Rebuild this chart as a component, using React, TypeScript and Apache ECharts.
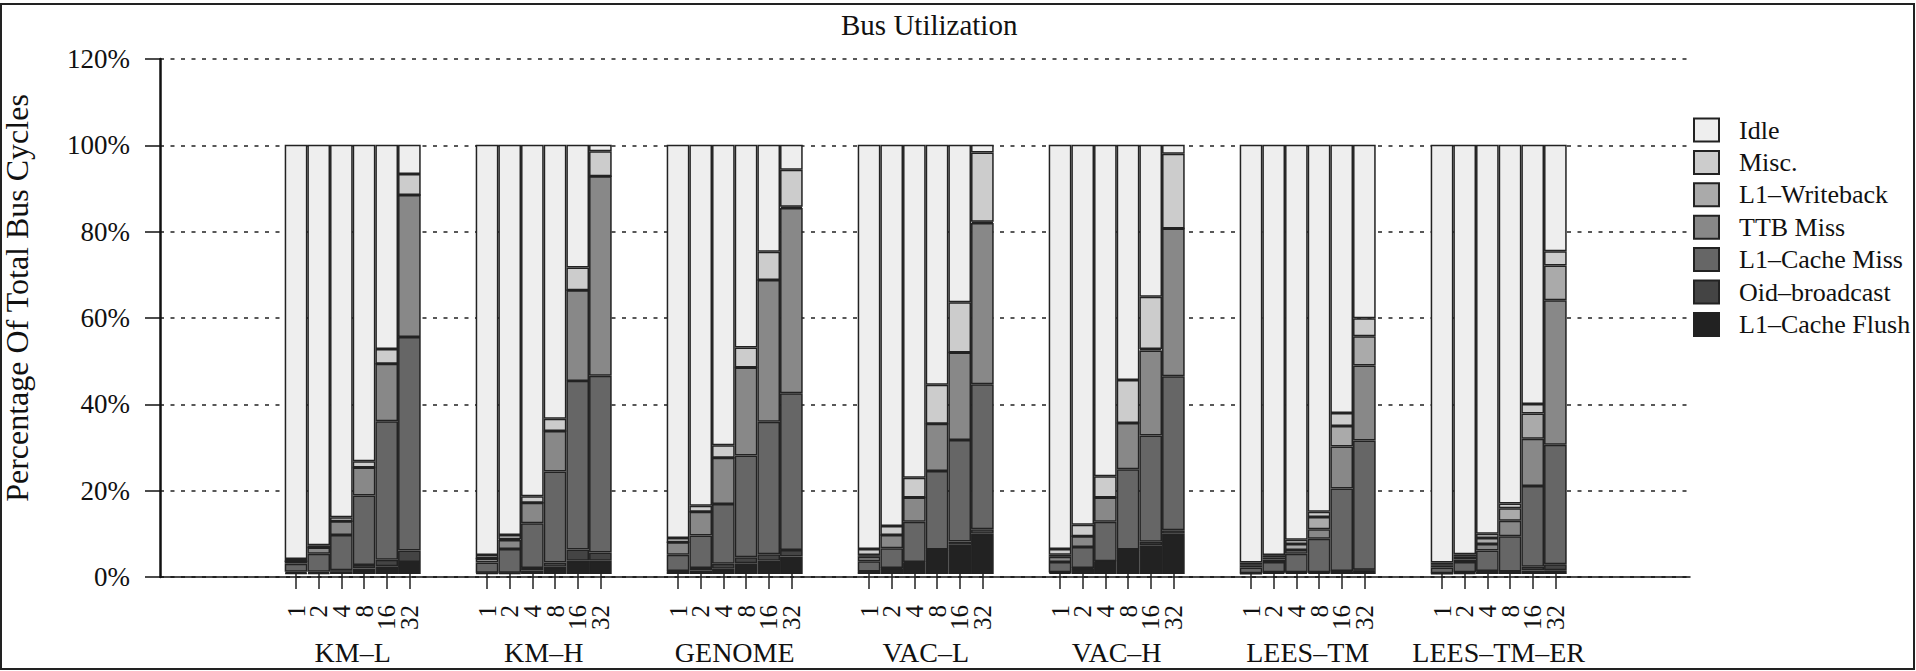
import React, { useEffect, useRef } from "react";
import * as echarts from "echarts";

const groups = ["KM–L", "KM–H", "GENOME", "VAC–L", "VAC–H", "LEES–TM", "LEES–TM–ER"];
const procs = ["1", "2", "4", "8", "16", "32"];
// stacking order, bottom to top
const seriesNames = ["L1–Cache Flush", "Oid–broadcast", "L1–Cache Miss", "TTB Miss", "L1–Writeback", "Misc.", "Idle"];

const flush = [
  [0.2, 0.2, 0.5, 1.3, 1.8, 2.8],
  [0.2, 0.2, 0.8, 1.7, 3.1, 3.1],
  [0.6, 0.8, 1.2, 2.5, 3.1, 4.1],
  [0.5, 1.3, 2.7, 5.6, 6.8, 9.4],
  [0.3, 1.3, 2.9, 5.6, 6.7, 9.4],
  [0.1, 0.3, 0.3, 0.3, 0.6, 0.9],
  [0.1, 0.2, 0.6, 0.5, 0.8, 0.9],
];
const oid = [
  [0.3, 0.3, 0.4, 0.8, 1.5, 2.7],
  [0.1, 0.1, 0.6, 1.0, 2.6, 1.9],
  [0.1, 0.6, 1.2, 1.4, 1.5, 1.5],
  [0.1, 0.1, 0.1, 0.1, 0.8, 1.0],
  [0.1, 0.1, 0.1, 0.1, 0.8, 0.8],
  [0.1, 0.1, 0.1, 0.1, 0.1, 0.1],
  [0.1, 0.2, 0.1, 0.1, 0.9, 1.4],
];
const l1Miss = [
  [1.9, 4.2, 8.2, 16.2, 32.3, 49.7],
  [2.4, 5.5, 10.4, 21.2, 39.3, 41.2],
  [3.8, 7.6, 13.9, 23.7, 30.9, 36.5],
  [2.4, 4.6, 9.4, 18.3, 23.6, 33.8],
  [2.4, 4.9, 9.2, 18.7, 24.8, 35.9],
  [1.3, 2.4, 4.3, 7.8, 19.2, 30.1],
  [1.3, 2.4, 4.8, 8.2, 18.8, 27.8],
];
const ttbMiss = [
  [0.6, 1.5, 3.2, 6.5, 13.4, 33.1],
  [0.9, 2.1, 4.8, 9.4, 21.1, 46.5],
  [2.9, 5.5, 10.8, 20.5, 33.0, 43.2],
  [1.0, 3.1, 5.6, 11.0, 20.4, 37.6],
  [1.2, 2.5, 5.6, 10.8, 19.8, 34.4],
  [0.4, 0.6, 0.9, 2.2, 9.8, 17.5],
  [0.4, 0.6, 1.5, 3.6, 11.0, 33.7],
];
const writeback = [
  [0, 0, 0, 0, 0, 0],
  [0, 0.2, 0, 0, 0, 0],
  [0, 0, 0, 0, 0, 0.3],
  [0.4, 0, 0, 0, 0, 0.3],
  [0.5, 0, 0, 0, 0.3, 0],
  [0.4, 0.5, 1.4, 2.9, 4.8, 6.8],
  [0.4, 0.6, 1.4, 2.9, 5.9, 8.1],
];
const misc = [
  [0.5, 0.5, 0.9, 1.5, 3.4, 4.9],
  [0.8, 1.0, 1.5, 2.9, 5.3, 5.8],
  [1.0, 1.4, 2.9, 4.7, 6.6, 8.6],
  [1.4, 2.1, 4.6, 9.1, 11.7, 16.1],
  [1.3, 2.7, 5.0, 10.0, 12.2, 17.4],
  [0.4, 0.5, 1.0, 1.2, 3.0, 4.2],
  [0.4, 0.6, 1.0, 1.1, 2.2, 3.3],
];
const idle = [
  [96.5, 93.3, 86.8, 73.7, 47.6, 6.8],
  [95.6, 90.9, 81.9, 63.8, 28.6, 1.5],
  [91.6, 84.1, 70.0, 47.2, 24.9, 5.8],
  [94.2, 88.8, 77.6, 55.9, 36.7, 1.8],
  [94.2, 88.5, 77.2, 54.8, 35.4, 2.1],
  [97.3, 95.6, 92.0, 85.5, 62.5, 40.4],
  [97.3, 95.4, 90.6, 83.6, 60.4, 24.8],
];
const seriesValues = [flush, oid, l1Miss, ttbMiss, writeback, misc, idle];
const palette = ["#222222", "#444444", "#666666", "#888888", "#aaaaaa", "#cccccc", "#eeeeee"];

const FONT = "'Liberation Serif', 'Times New Roman', serif";

export default function App() {
  const ref = useRef<HTMLDivElement>(null);
  useEffect(() => {
    document.body.style.margin = "0";
    if (!ref.current) return;
    const chart = echarts.init(ref.current, null, { renderer: "svg" });

    const plotTop = 59;
    const plotH = 518;
    const groupLeft0 = 284.7;
    const groupPitch = 191;
    const groupW = 136;

    const grids: any[] = [{ left: 160, width: 1530, top: plotTop, height: plotH }];
    const xAxes: any[] = [
      {
        gridIndex: 0,
        type: "value",
        min: 0,
        max: 1,
        axisLine: { show: true, onZero: false, lineStyle: { color: "#111", width: 1.5 } },
        axisTick: { show: false },
        axisLabel: { show: false },
        splitLine: { show: false },
      },
    ];
    const yAxes: any[] = [
      {
        gridIndex: 0,
        type: "value",
        min: 0,
        max: 120,
        interval: 20,
        axisLine: { show: true, lineStyle: { color: "#111", width: 2.5 } },
        axisTick: { show: true, length: 15, lineStyle: { color: "#111", width: 1.5 } },
        axisLabel: {
          formatter: "{value}%",
          margin: 30,
          fontSize: 27,
          fontFamily: FONT,
          color: "#111",
        },
        splitLine: { show: true, lineStyle: { type: [4, 6.5], color: "#222", width: 1.5 } },
      },
    ];
    const series: any[] = [];

    groups.forEach((g, gi) => {
      grids.push({ left: groupLeft0 + gi * groupPitch, width: groupW, top: plotTop, height: plotH });
      xAxes.push({
        gridIndex: gi + 1,
        type: "category",
        data: procs,
        axisLine: { show: false },
        axisTick: { show: true, alignWithLabel: true, length: 15, lineStyle: { color: "#222", width: 1.5 } },
        axisLabel: { rotate: 90, margin: 31, fontSize: 25, fontFamily: FONT, color: "#111", interval: 0 },
        name: g,
        nameLocation: "middle",
        nameGap: 64,
        nameTextStyle: { fontSize: 28, fontFamily: FONT, color: "#111" },
      });
      yAxes.push({ gridIndex: gi + 1, type: "value", min: 0, max: 120, show: false });
      seriesValues.forEach((vals, si) => {
        series.push({
          type: "bar",
          name: seriesNames[si],
          xAxisIndex: gi + 1,
          yAxisIndex: gi + 1,
          stack: "g" + gi,
          barCategoryGap: "0%",
          data: vals[gi],
          itemStyle: { color: palette[si], borderColor: "#222", borderWidth: 1.5 },
          emphasis: { disabled: true },
        });
      });
    });

    chart.setOption({
      animation: false,
      backgroundColor: "#fff",
      title: {
        text: "Bus Utilization",
        left: 841,
        top: 10,
        padding: 0,
        textStyle: { fontSize: 29, fontWeight: "normal", fontFamily: FONT, color: "#111" },
      },
      legend: {
        data: [...seriesNames].reverse(),
        orient: "vertical",
        left: 1693,
        top: 117,
        padding: 0,
        itemWidth: 25,
        itemHeight: 23,
        itemGap: 6.4,
        icon: "rect",
        selectedMode: false,
        textStyle: { fontSize: 26, fontFamily: FONT, color: "#111", padding: [0, 0, 0, 15] },
      },
      grid: grids,
      xAxis: xAxes,
      yAxis: yAxes,
      series,
      graphic: [
        {
          type: "rect",
          silent: true,
          shape: { x: 1, y: 4, width: 1913, height: 665 },
          style: { fill: "none", stroke: "#222", lineWidth: 2 },
        },
        {
          type: "text",
          silent: true,
          x: 17,
          y: 298,
          rotation: Math.PI / 2,
          style: {
            text: "Percentage Of Total Bus Cycles",
            fontSize: 32,
            fontFamily: FONT,
            fill: "#111",
            textAlign: "center",
            textVerticalAlign: "middle",
          },
        },
      ],
    });
    return () => chart.dispose();
  }, []);
  return <div ref={ref} style={{ width: 1916, height: 671 }} />;
}
